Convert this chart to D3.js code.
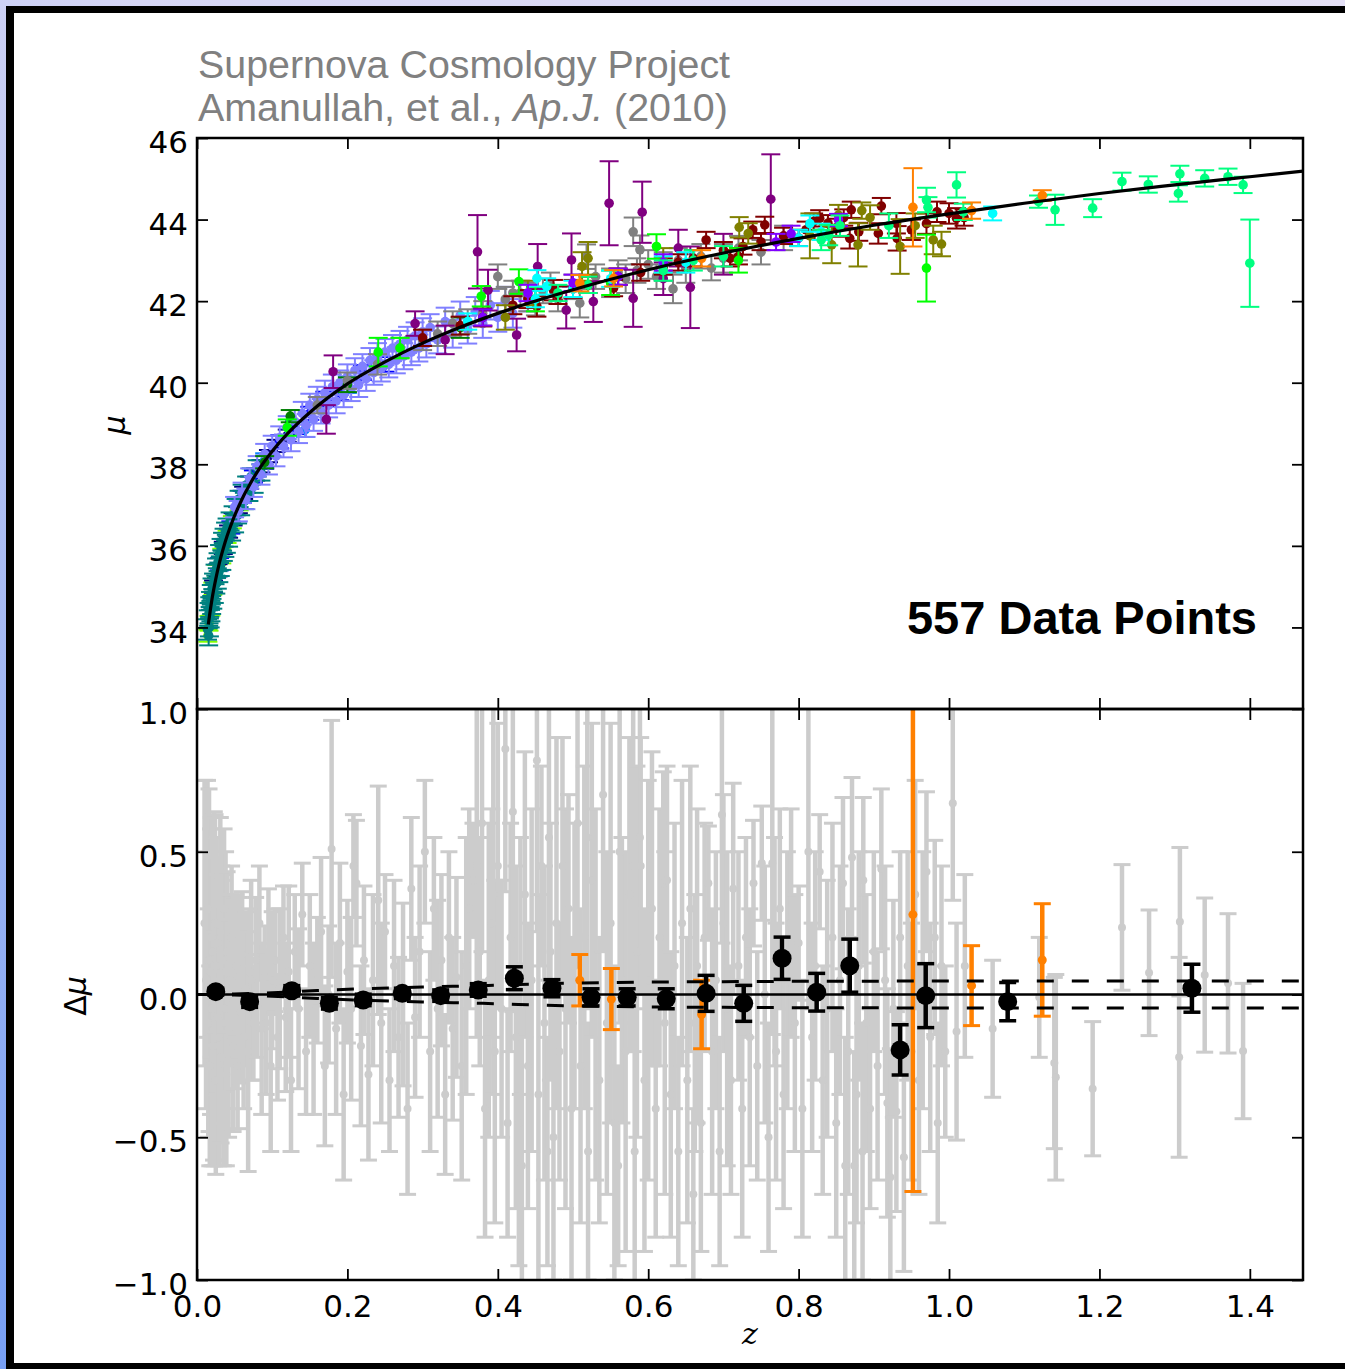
<!DOCTYPE html>
<html><head><meta charset="utf-8">
<script src="https://cdn.jsdelivr.net/npm/d3@7"></script>
<style>body{margin:0;background:#fff;}svg{display:block}</style>
</head><body>
<svg id="c" width="1345" height="1369"></svg>
<script>
// ---------- DATA ----------
const xTicks = [0, 0.2, 0.4, 0.6, 0.8, 1.0, 1.2, 1.4];
const muTicks = [34, 36, 38, 40, 42, 44, 46];
const dmuTicks = [-1, -0.5, 0, 0.5, 1];

// best-fit model curve [z, mu]
const curveZ  = [0.015,0.02,0.025,0.03,0.035,0.04,0.045,0.05,0.055,0.06,0.065,0.07,0.075,0.08,0.1,0.12,0.15,0.2,0.25,0.3,0.35,0.4,0.5,0.6,0.7,0.8,0.9,1.0,1.1,1.2,1.3,1.4,1.471];
const curveMu = [34.07,34.70,35.19,35.60,35.94,36.24,36.50,36.74,36.95,37.15,37.33,37.50,37.66,37.81,38.32,38.745,39.27,39.97,40.51,40.97,41.36,41.70,42.28,42.77,43.18,43.54,43.86,44.14,44.40,44.64,44.85,45.05,45.19];

// Hubble diagram samples [z, mu, err]
const chartreusePts = [[0.0145,33.80,0.15],[0.016,34.10,0.18],[0.0185,34.45,0.16],[0.021,34.95,0.15],[0.026,35.38,0.15],[0.033,35.75,0.18],[0.04,36.22,0.15],[0.047,36.58,0.15],[0.056,37.02,0.15]];
const navyPts = [[0.022,35.00,0.15],[0.028,35.40,0.15],[0.035,35.95,0.15],[0.042,36.35,0.15],[0.048,36.65,0.15],[0.055,36.95,0.15],[0.062,37.30,0.15],[0.07,37.55,0.15],[0.078,37.75,0.15],[0.085,37.95,0.15],[0.095,38.20,0.15],[0.105,38.45,0.15],[0.12,38.70,0.15]];
const bluePts = [[0.03,35.55,0.15],[0.045,36.45,0.15],[0.06,37.20,0.15],[0.075,37.70,0.15],[0.09,38.05,0.16],[0.11,38.55,0.16],[0.13,38.90,0.16],[0.15,39.25,0.16],[0.17,39.60,0.18],[0.19,39.75,0.18],[0.22,40.25,0.18],[0.25,40.45,0.18]];
const tealPts = [[0.014,33.95,0.25],[0.015,34.20,0.22],[0.0155,33.80,0.24],[0.016,34.35,0.25],[0.0165,34.00,0.22],[0.017,34.50,0.24],[0.0175,34.25,0.25],[0.018,34.65,0.22],[0.0185,34.40,0.25],[0.019,34.80,0.24],[0.0195,34.55,0.22],[0.02,34.95,0.25],[0.021,34.70,0.24],[0.022,35.10,0.22],[0.023,34.85,0.25],[0.024,35.30,0.24],[0.025,35.05,0.22],[0.026,35.45,0.24],[0.027,35.20,0.25],[0.028,35.60,0.22],[0.029,35.35,0.24],[0.03,35.80,0.22],[0.031,35.50,0.24],[0.032,35.95,0.22],[0.033,35.65,0.24],[0.034,36.10,0.22],[0.035,35.85,0.22],[0.036,36.20,0.22],[0.037,35.95,0.22],[0.038,36.35,0.22],[0.039,36.05,0.22],[0.04,36.45,0.22],[0.042,36.20,0.22],[0.044,36.60,0.22],[0.046,36.35,0.22],[0.048,36.75,0.22],[0.05,36.55,0.22],[0.052,36.95,0.20],[0.054,36.75,0.20],[0.056,37.15,0.20],[0.058,36.95,0.20],[0.06,37.30,0.20],[0.063,37.10,0.20],[0.066,37.50,0.20],[0.069,37.30,0.20],[0.072,37.70,0.20],[0.076,37.50,0.20],[0.08,37.90,0.20],[0.085,37.80,0.20]];
const azurePts = [[0.09,38.10,0.17],[0.144,38.85,0.18],[0.2,39.95,0.20]];
const slatePts = [[0.05,36.95,0.25],[0.055,36.85,0.25],[0.06,37.30,0.25],[0.065,37.15,0.25],[0.07,37.65,0.25],[0.075,37.45,0.25],[0.08,37.95,0.25],[0.085,37.75,0.25],[0.09,38.25,0.25],[0.095,38.00,0.25],[0.10,38.45,0.25],[0.105,38.20,0.25],[0.11,38.65,0.28],[0.115,38.45,0.28],[0.12,38.90,0.28],[0.125,38.60,0.28],[0.13,39.05,0.28],[0.135,38.80,0.28],[0.14,39.25,0.28],[0.145,38.95,0.28],[0.15,39.45,0.28],[0.155,39.10,0.28],[0.16,39.60,0.30],[0.165,39.30,0.30],[0.17,39.75,0.30],[0.175,39.45,0.30],[0.18,39.90,0.30],[0.185,39.55,0.30],[0.19,40.00,0.30],[0.195,39.70,0.30],[0.2,40.15,0.30],[0.205,39.85,0.30],[0.21,40.30,0.30],[0.215,39.95,0.30],[0.22,40.40,0.30],[0.225,40.10,0.30],[0.23,40.55,0.30],[0.235,40.25,0.30],[0.24,40.65,0.32],[0.245,40.35,0.32],[0.25,40.75,0.32],[0.255,40.45,0.32],[0.26,40.85,0.32],[0.265,40.55,0.32],[0.27,40.95,0.32],[0.275,40.65,0.32],[0.28,41.05,0.32],[0.285,40.75,0.32],[0.29,41.15,0.33],[0.295,40.85,0.33],[0.30,41.25,0.33],[0.305,40.95,0.33],[0.31,41.35,0.33],[0.32,41.05,0.33],[0.33,41.50,0.34],[0.34,41.20,0.34],[0.35,41.65,0.34],[0.36,41.30,0.34],[0.37,41.75,0.35],[0.38,41.45,0.35],[0.39,41.90,0.35],[0.40,41.60,0.35],[0.41,42.00,0.35],[0.42,41.70,0.35],[0.44,42.10,0.35]];
const greenPts = [[0.09,38.05,0.15],[0.124,39.18,0.15],[0.2,39.95,0.18],[0.35,41.35,0.25]];
const grayPts = [[0.16,39.45,0.20],[0.20,40.05,0.20],[0.24,40.45,0.25],[0.27,40.85,0.25],[0.30,41.05,0.25],[0.32,41.20,0.30],[0.34,41.45,0.30],[0.36,41.50,0.30],[0.38,41.70,0.30],[0.40,42.60,0.30],[0.41,42.05,0.30],[0.42,42.20,0.30],[0.43,42.20,0.30],[0.44,42.10,0.35],[0.45,41.95,0.30],[0.46,42.25,0.30],[0.47,42.40,0.30],[0.48,42.05,0.30],[0.50,42.35,0.30],[0.509,41.95,0.35],[0.518,43.09,0.30],[0.53,42.60,0.30],[0.55,42.45,0.35],[0.56,42.70,0.30],[0.57,42.55,0.35],[0.58,43.70,0.35],[0.585,42.75,0.30],[0.589,43.26,0.35],[0.60,42.90,0.35],[0.611,42.60,0.30],[0.62,42.85,0.35],[0.633,42.30,0.35],[0.64,43.00,0.30],[0.65,42.80,0.35],[0.67,43.10,0.30],[0.684,42.81,0.30],[0.70,43.05,0.35],[0.72,43.30,0.30],[0.75,43.20,0.30],[0.78,43.55,0.30]];
const purplePts = [[0.172,39.10,0.35],[0.181,40.27,0.40],[0.29,41.45,0.30],[0.33,41.05,0.35],[0.373,43.21,0.90],[0.387,42.27,0.50],[0.425,41.17,0.40],[0.453,42.85,0.55],[0.491,41.78,0.45],[0.498,43.01,0.65],[0.527,41.99,0.50],[0.548,44.40,1.03],[0.580,42.07,0.70],[0.592,44.18,0.75],[0.62,42.55,0.40],[0.64,43.30,0.45],[0.656,42.34,1.00],[0.70,43.15,0.50],[0.763,44.50,1.10]];
const darkredPts = [[0.30,41.10,0.20],[0.35,41.40,0.22],[0.38,41.60,0.22],[0.42,41.90,0.22],[0.44,42.05,0.22],[0.452,41.87,0.25],[0.474,42.27,0.25],[0.48,42.15,0.22],[0.50,42.30,0.22],[0.52,42.40,0.20],[0.554,42.32,0.20],[0.56,42.60,0.20],[0.59,42.70,0.20],[0.62,42.85,0.20],[0.64,42.95,0.20],[0.66,43.05,0.20],[0.677,43.50,0.20],[0.70,43.25,0.20],[0.709,43.05,0.20],[0.72,43.10,0.20],[0.726,43.34,0.20],[0.739,43.75,0.20],[0.75,43.45,0.20],[0.755,43.87,0.20],[0.78,43.60,0.20],[0.80,43.55,0.20],[0.81,43.75,0.20],[0.82,43.95,0.20],[0.828,44.03,0.20],[0.839,43.91,0.20],[0.85,43.80,0.22],[0.86,44.05,0.20],[0.868,43.54,0.25],[0.870,44.24,0.20],[0.88,43.70,0.22],[0.906,43.66,0.25],[0.910,44.33,0.20],[0.930,43.91,0.25],[0.931,43.54,0.30],[0.95,43.75,0.25],[0.97,43.90,0.25],[0.984,44.19,0.25],[1.00,44.15,0.25],[1.010,44.03,0.25],[1.02,44.05,0.20]];
const olivePts = [[0.41,41.60,0.30],[0.44,42.20,0.30],[0.512,42.85,0.35],[0.52,43.05,0.40],[0.62,43.00,0.30],[0.721,43.81,0.25],[0.733,43.66,0.25],[0.815,43.60,0.55],[0.844,43.38,0.45],[0.853,44.11,0.25],[0.879,43.38,0.53],[0.884,44.22,0.20],[0.895,44.05,0.30],[0.935,43.34,0.67],[0.955,43.85,0.30],[0.979,43.50,0.35],[0.99,43.40,0.30]];
const limePts = [[0.12,38.90,0.20],[0.241,40.75,0.35],[0.27,40.85,0.25],[0.378,42.12,0.25],[0.428,42.48,0.30],[0.45,42.05,0.30],[0.55,42.45,0.30],[0.611,43.34,0.30],[0.72,43.00,0.30],[0.970,42.81,0.82]];
const cyanPts = [[0.36,41.50,0.20],[0.45,42.05,0.20],[0.452,42.56,0.20],[0.465,42.36,0.20],[0.50,42.30,0.20],[0.55,42.55,0.20],[0.62,42.90,0.20],[0.65,42.95,0.25],[0.80,43.55,0.20],[0.815,43.90,0.20],[0.83,43.70,0.20],[1.058,44.15,0.17]];
const violetPts = [[0.38,41.60,0.20],[0.44,42.20,0.20],[0.50,42.45,0.20],[0.56,42.60,0.20],[0.62,42.95,0.20],[0.77,43.45,0.20],[0.79,43.65,0.20],[0.853,43.99,0.15]];
const springPts = [[0.48,42.20,0.20],[0.52,42.40,0.20],[0.62,42.75,0.25],[0.66,43.00,0.25],[0.70,43.10,0.25],[0.830,43.50,0.25],[0.840,43.62,0.25],[0.855,43.85,0.25],[0.92,43.85,0.30],[0.970,44.48,0.30],[0.972,44.30,0.25],[1.010,44.85,0.31],[1.019,44.19,0.20],[1.119,44.44,0.15],[1.141,44.24,0.37],[1.191,44.28,0.22],[1.230,44.93,0.22],[1.265,44.86,0.20],[1.305,44.64,0.20],[1.307,45.12,0.20],[1.340,45.01,0.20],[1.371,45.05,0.20],[1.391,44.85,0.20],[1.400,42.93,1.07]];
const orangePts = [[0.509,42.44,0.20],[0.554,42.56,0.20],[0.671,43.05,0.20],[0.952,44.30,0.96],[1.030,44.22,0.20],[1.124,44.59,0.13]];
const sampleColors = ["#80ff00","#000080","#0000ff","#008080","#0a84ff","#8080ff","#008000","#808080","#800080","#800000","#808000","#00ff00","#00ffff","#8000ff","#00ff80","#ff8000"];

// residuals: individual SNe [z, dmu, err]
const residGray = [[0.01,0.25,0.50],[0.012,0.05,0.45],[0.014,0.30,0.45],[0.015,-0.10,0.40],[0.016,0.12,0.60],[0.017,-0.25,0.35],[0.018,0.08,0.50],[0.019,0.20,0.42],[0.02,-0.05,0.55],[0.021,0.15,0.33],[0.022,-0.18,0.40],[0.023,0.02,0.62],[0.024,0.25,0.38],[0.025,-0.30,0.33],[0.026,0.10,0.45],[0.027,-0.08,0.50],[0.028,0.18,0.30],[0.029,-0.15,0.45],[0.03,0.05,0.35],[0.031,0.22,0.40],[0.032,-0.22,0.30],[0.033,0.00,0.45],[0.034,0.12,0.30],[0.035,-0.10,0.50],[0.036,0.30,0.28],[0.037,-0.05,0.35],[0.038,0.08,0.42],[0.039,-0.28,0.32],[0.04,0.15,0.28],[0.042,-0.12,0.38],[0.044,0.05,0.30],[0.046,0.20,0.25],[0.048,-0.18,0.30],[0.05,0.00,0.33],[0.052,0.10,0.25],[0.054,-0.25,0.22],[0.056,0.06,0.28],[0.058,-0.06,0.25],[0.06,0.14,0.22],[0.062,-0.15,0.25],[0.065,0.02,0.27],[0.068,-0.20,0.42],[0.07,0.08,0.22],[0.072,0.05,0.35],[0.075,-0.10,0.20],[0.078,0.12,0.22],[0.08,-0.04,0.18],[0.083,0.25,0.20],[0.086,-0.12,0.30],[0.09,0.06,0.18],
[0.092,-0.10,0.25],[0.095,0.15,0.22],[0.098,-0.25,0.30],[0.10,0.05,0.24],[0.104,0.12,0.18],[0.107,-0.15,0.22],[0.11,0.02,0.28],[0.115,0.20,0.18],[0.118,-0.08,0.26],[0.122,0.08,0.30],[0.125,-0.30,0.25],[0.13,0.15,0.20],[0.135,-0.05,0.28],[0.14,0.28,0.18],[0.145,-0.20,0.22],[0.15,0.10,0.25],[0.155,-0.12,0.30],[0.16,0.05,0.22],[0.165,0.22,0.26],[0.17,-0.25,0.28],[0.175,0.00,0.24],[0.179,0.51,0.45],[0.185,-0.12,0.30],[0.19,0.18,0.28],[0.195,-0.35,0.30],[0.20,0.08,0.25],[0.205,-0.05,0.32],[0.208,0.45,0.18],[0.212,0.39,0.22],[0.218,-0.18,0.28],[0.222,0.12,0.26],[0.228,-0.28,0.30],[0.234,0.05,0.30],[0.241,0.33,0.40],[0.245,-0.10,0.35],[0.25,0.22,0.20],[0.256,-0.30,0.25],[0.262,0.10,0.30],[0.268,-0.15,0.28],[0.274,0.00,0.32],[0.28,-0.40,0.30],[0.285,0.37,0.25],[0.29,-0.08,0.28],[0.296,0.15,0.30],[0.303,0.50,0.25],[0.31,-0.20,0.35],[0.315,0.30,0.25],[0.32,-0.05,0.38],[0.325,0.12,0.30],[0.33,-0.35,0.28],[0.335,0.20,0.30],[0.34,-0.12,0.32],[0.345,0.06,0.35],
[0.352,-0.25,0.40],[0.358,0.10,0.45],[0.362,0.30,0.35],[0.367,0.40,0.20],[0.372,0.45,0.60],[0.376,0.15,0.40],[0.379,0.60,0.45],[0.383,-0.40,0.45],[0.388,0.05,0.55],[0.392,0.25,0.40],[0.394,0.35,0.70],[0.396,-0.20,0.60],[0.40,0.45,0.50],[0.405,-0.05,0.45],[0.41,0.86,0.50],[0.413,-0.45,0.40],[0.417,0.20,0.40],[0.42,0.64,0.70],[0.424,-0.15,0.60],[0.428,-0.45,0.50],[0.43,0.10,0.45],[0.432,-0.60,0.55],[0.436,0.35,0.50],[0.44,-0.25,0.50],[0.445,0.05,0.60],[0.452,0.82,0.60],[0.454,-0.35,0.70],[0.458,0.45,0.35],[0.462,-0.10,0.55],[0.466,-0.55,0.40],[0.468,0.55,0.50],[0.47,0.15,0.45],[0.474,-0.50,0.50],[0.478,0.25,0.65],[0.482,-0.20,0.45],[0.486,0.45,0.45],[0.49,-0.05,0.70],[0.494,0.30,0.40],[0.498,-0.40,0.60],[0.502,0.10,0.50],[0.506,0.60,0.50],[0.51,-0.25,0.55],[0.515,0.20,0.60],[0.519,0.55,0.60],[0.52,-0.55,0.45],[0.525,0.40,0.55],[0.53,0.00,0.65],[0.535,-0.30,0.50],[0.54,0.70,0.55],[0.545,-0.10,0.60],[0.55,0.25,0.70],[0.555,-0.45,0.55],[0.56,-0.60,0.35],[0.562,0.50,0.60],[0.565,0.05,0.50],[0.57,-0.20,0.70],[0.575,0.35,0.55],[0.58,0.45,0.65],[0.582,-0.55,0.50],[0.585,0.15,0.65],[0.589,0.55,0.55],[0.59,0.45,0.45],[0.595,-0.30,0.60],[0.60,0.05,0.70],[0.605,0.30,0.55],[0.61,-0.40,0.45],[0.615,0.20,0.45],[0.62,0.39,0.39],[0.622,-0.10,0.60],[0.625,0.40,0.40],[0.63,-0.35,0.50],[0.635,0.10,0.50],[0.64,-0.55,0.40],[0.645,0.25,0.50],
[0.652,-0.30,0.50],[0.656,0.30,0.50],[0.66,-0.70,0.30],[0.662,-0.10,0.45],[0.665,0.10,0.55],[0.67,-0.45,0.45],[0.675,0.20,0.40],[0.68,0.39,0.20],[0.685,-0.20,0.50],[0.69,0.05,0.45],[0.695,-0.55,0.40],[0.698,0.63,0.45],[0.70,0.25,0.45],[0.705,-0.05,0.55],[0.71,-0.30,0.40],[0.713,0.37,0.37],[0.72,0.10,0.40],[0.725,-0.40,0.45],[0.73,0.20,0.35],[0.735,-0.15,0.45],[0.74,0.39,0.22],[0.745,-0.25,0.40],[0.751,0.46,0.20],[0.755,0.00,0.45],[0.76,-0.50,0.40],[0.765,0.46,0.60],[0.768,0.15,0.40],[0.77,-0.20,0.45],[0.775,0.30,0.35],[0.78,-0.35,0.40],[0.785,0.05,0.45],[0.79,0.25,0.40],[0.795,-0.10,0.45],[0.80,0.18,0.20],[0.805,-0.40,0.45],[0.813,0.50,0.55],[0.818,-0.15,0.40],[0.822,0.10,0.40],[0.828,0.43,0.20],[0.832,-0.30,0.40],[0.838,-0.05,0.45],[0.845,0.20,0.40],[0.85,-0.45,0.40],[0.855,0.05,0.40],[0.859,0.39,0.30],[0.862,-0.60,0.45],[0.866,-0.20,0.50],[0.871,0.48,0.28],[0.874,-0.60,0.40],[0.877,-0.35,0.45],[0.88,0.10,0.40],[0.885,-0.55,0.45],[0.886,0.40,0.29],[0.89,-0.10,0.45],[0.895,-0.40,0.35],[0.90,0.15,0.35],[0.905,-0.25,0.40],[0.91,0.44,0.28],[0.915,0.05,0.40],[0.918,-0.38,0.40],[0.922,-0.64,0.45],[0.926,-0.05,0.38],[0.93,-0.41,0.35],[0.935,0.20,0.30],[0.94,-0.57,0.40],[0.945,0.10,0.40],[0.95,-0.20,0.45],[0.955,0.35,0.40],[0.96,-0.30,0.40],[0.965,0.05,0.45],[0.97,0.43,0.28],[0.975,-0.15,0.40],[0.981,0.20,0.34],[0.985,-0.45,0.35],[0.99,0.10,0.35],[0.995,-0.20,0.30],[1.005,0.67,0.34],
[1.010,-0.13,0.38],[1.021,0.10,0.32],[1.058,-0.12,0.24],[1.120,-0.01,0.21],[1.140,-0.24,0.30],[1.142,-0.29,0.36],[1.191,-0.33,0.235],[1.230,0.235,0.22],[1.266,0.076,0.22],[1.306,-0.22,0.35],[1.307,0.255,0.26],[1.340,0.068,0.27],[1.371,0.039,0.244],[1.391,-0.198,0.237]];

// new SCP HST SNe (orange) residuals
const residOrangeZ = [0.509, 0.551, 0.671, 0.952, 1.030, 1.124];
const residOrangeD = [0.05, -0.016, -0.07, 0.28, 0.031, 0.121];
const residOrangeE = [0.09, 0.107, 0.12, 0.97, 0.14, 0.197];

// binned residuals (black)
const binZ = [0.025,0.070,0.126,0.176,0.221,0.273,0.324,0.374,0.422,0.472,0.524,0.572,0.624,0.677,0.727,0.778,0.824,0.868,0.935,0.969,1.078,1.323];
const binD = [0.010,-0.025,0.013,-0.031,-0.019,0.004,-0.004,0.016,0.057,0.022,-0.010,-0.010,-0.015,0.004,-0.031,0.127,0.008,0.101,-0.194,-0.004,-0.025,0.022];
const binE = [0.012,0.020,0.018,0.020,0.020,0.018,0.020,0.022,0.040,0.030,0.030,0.030,0.035,0.063,0.063,0.074,0.066,0.093,0.088,0.112,0.067,0.084];

// systematic envelope (dashed)
const envZ = [0.0,0.05,0.1,0.16,0.23,0.30,0.38,0.5,0.7,1.0,1.471];
const envE = [0.0,0.002,0.006,0.014,0.021,0.026,0.031,0.040,0.045,0.047,0.047];

// ---------- DRAW ----------
const svg = d3.select("#c");
const L = 197, R = 1303, T1 = 138, M = 709, B2 = 1280;
const x = d3.scaleLinear().domain([0, 1.4707]).range([L, R]);
const yTop = d3.scaleLinear().domain([32, 46]).range([M, T1]);
const yBot = d3.scaleLinear().domain([-1, 1]).range([B2, M]);

// outer frame
const defs = svg.append("defs");
const grad = defs.append("linearGradient").attr("id","bg").attr("x1","1").attr("y1","0").attr("x2","0").attr("y2","1");
grad.append("stop").attr("offset","0").attr("stop-color","#e4e0f6");
grad.append("stop").attr("offset","0.45").attr("stop-color","#d6d6f6");
grad.append("stop").attr("offset","1").attr("stop-color","#78a0f6");
svg.append("rect").attr("width",1345).attr("height",1369).attr("fill","url(#bg)");
svg.append("rect").attr("x",6).attr("y",6).attr("width",1345).attr("height",1369).attr("fill","#000");
svg.append("rect").attr("x",14).attr("y",13).attr("width",1335).attr("height",1350).attr("fill","#fff");

defs.append("clipPath").attr("id","clipTop").append("rect").attr("x",L).attr("y",T1).attr("width",R-L).attr("height",M-T1);
defs.append("clipPath").attr("id","clipBot").append("rect").attr("x",L).attr("y",M).attr("width",R-L).attr("height",B2-M);

function drawErr(g, pts, ys, color, o) {
  const grp = g.append("g");
  pts.forEach(p => {
    const cx = x(p[0]), y0 = ys(p[1] - p[2]), y1 = ys(p[1] + p[2]);
    grp.append("line").attr("x1",cx).attr("x2",cx).attr("y1",y0).attr("y2",y1)
      .attr("stroke",color).attr("stroke-width",o.bw);
    [y0,y1].forEach(yy => grp.append("line").attr("x1",cx-o.cap).attr("x2",cx+o.cap).attr("y1",yy).attr("y2",yy)
      .attr("stroke",color).attr("stroke-width",o.cw));
  });
  pts.forEach(p => grp.append("circle").attr("cx",x(p[0])).attr("cy",ys(p[1])).attr("r",o.r).attr("fill",color));
}

// ---- top panel ----
const gTop = svg.append("g").attr("clip-path","url(#clipTop)");
const topSamples = [chartreusePts, navyPts, bluePts, tealPts, azurePts, slatePts, greenPts, grayPts, purplePts, darkredPts, olivePts, limePts, cyanPts, violetPts, springPts, orangePts];
topSamples.forEach((pts, i) => drawErr(gTop, pts, yTop, sampleColors[i], {bw:2, cw:2, cap:9.5, r:4.8}));
gTop.append("path").datum(curveZ.map((z,i)=>[z,curveMu[i]]))
  .attr("d", d3.line().x(d=>x(d[0])).y(d=>yTop(d[1])).curve(d3.curveMonotoneX))
  .attr("fill","none").attr("stroke","#000").attr("stroke-width",3.2);

// ---- bottom panel ----
const gBot = svg.append("g").attr("clip-path","url(#clipBot)");
drawErr(gBot, residGray, yBot, "#cccccc", {bw:4.5, cw:3, cap:8.5, r:4});
drawErr(gBot, residOrangeZ.map((z,i)=>[z,residOrangeD[i],residOrangeE[i]]), yBot, "#ff8000", {bw:4.5, cw:3, cap:8.5, r:4.5});
gBot.append("line").attr("x1",L).attr("x2",R).attr("y1",yBot(0)).attr("y2",yBot(0)).attr("stroke","#000").attr("stroke-width",2.5);
[1,-1].forEach(s => gBot.append("path").datum(envZ.map((z,i)=>[z,s*envE[i]]))
  .attr("d", d3.line().x(d=>x(d[0])).y(d=>yBot(d[1])).curve(d3.curveMonotoneX))
  .attr("fill","none").attr("stroke","#000").attr("stroke-width",3).attr("stroke-dasharray","17,18"));
drawErr(gBot, binZ.map((z,i)=>[z,binD[i],binE[i]]), yBot, "#000", {bw:4.5, cw:3.5, cap:8.5, r:9.5});

// ---- axes ----
function styleAxis(g) {
  g.select(".domain").remove();
  g.selectAll("line").attr("stroke","#000").attr("stroke-width",1.8);
  g.selectAll("text").attr("font-family","'DejaVu Sans', sans-serif").attr("font-size",31).attr("fill","#000");
}
const TS = -11;
svg.append("g").attr("transform",`translate(${L},0)`)
  .call(d3.axisLeft(yTop).tickValues(muTicks).tickSize(TS).tickPadding(9).tickFormat(d3.format("d")))
  .call(styleAxis).selectAll("text").attr("dy","0.47em");
svg.append("g").attr("transform",`translate(${L},0)`)
  .call(d3.axisLeft(yBot).tickValues(dmuTicks).tickSize(TS).tickPadding(9).tickFormat(d3.format(".1f")))
  .call(styleAxis).selectAll("text").attr("dy","0.47em");
svg.append("g").attr("transform",`translate(${R},0)`)
  .call(d3.axisRight(yTop).tickValues(muTicks).tickSize(TS).tickFormat("")).call(styleAxis);
svg.append("g").attr("transform",`translate(${R},0)`)
  .call(d3.axisRight(yBot).tickValues(dmuTicks).tickSize(TS).tickFormat("")).call(styleAxis);
svg.append("g").attr("transform",`translate(0,${T1})`)
  .call(d3.axisTop(x).tickValues(xTicks).tickSize(TS).tickFormat("")).call(styleAxis);
svg.append("g").attr("transform",`translate(0,${M})`)
  .call(d3.axisBottom(x).tickValues(xTicks).tickSize(TS).tickFormat("")).call(styleAxis);
svg.append("g").attr("transform",`translate(0,${M})`)
  .call(d3.axisTop(x).tickValues(xTicks).tickSize(TS).tickFormat("")).call(styleAxis);
svg.append("g").attr("transform",`translate(0,${B2})`)
  .call(d3.axisBottom(x).tickValues(xTicks).tickSize(TS).tickPadding(15).tickFormat(d3.format(".1f")))
  .call(styleAxis);

// frames
[[T1,M],[M,B2]].forEach(([a,b]) => svg.append("rect").attr("x",L).attr("y",a).attr("width",R-L).attr("height",b-a)
  .attr("fill","none").attr("stroke","#000").attr("stroke-width",2.5));

// labels
const sans = "'Liberation Sans', Arial, sans-serif";
svg.append("text").attr("x",198).attr("y",78).attr("font-family",sans).attr("font-size",39.4).attr("fill","#808080")
  .text("Supernova Cosmology Project");
const t2 = svg.append("text").attr("x",198).attr("y",121).attr("font-family",sans).attr("font-size",39.4).attr("fill","#808080");
t2.append("tspan").text("Amanullah, et al., ");
t2.append("tspan").attr("font-style","italic").text("Ap.J.");
t2.append("tspan").text(" (2010)");
svg.append("text").attr("x",1257).attr("y",634).attr("text-anchor","end").attr("font-family",sans)
  .attr("font-weight","bold").attr("font-size",47).attr("fill","#000").text("557 Data Points");
svg.append("text").attr("transform","translate(125,425) rotate(-90)").attr("text-anchor","middle")
  .attr("font-family","'DejaVu Sans', sans-serif").attr("font-style","italic").attr("font-size",30).text("μ");
svg.append("text").attr("transform","translate(86,996) rotate(-90)").attr("text-anchor","middle")
  .attr("font-family","'DejaVu Sans', sans-serif").attr("font-size",30).html("Δ<tspan font-style='italic'>μ</tspan>");
svg.append("text").attr("x",750).attr("y",1344).attr("text-anchor","middle")
  .attr("font-family","'DejaVu Serif', serif").attr("font-style","italic").attr("font-size",30).text("z");
</script>
</body></html>
